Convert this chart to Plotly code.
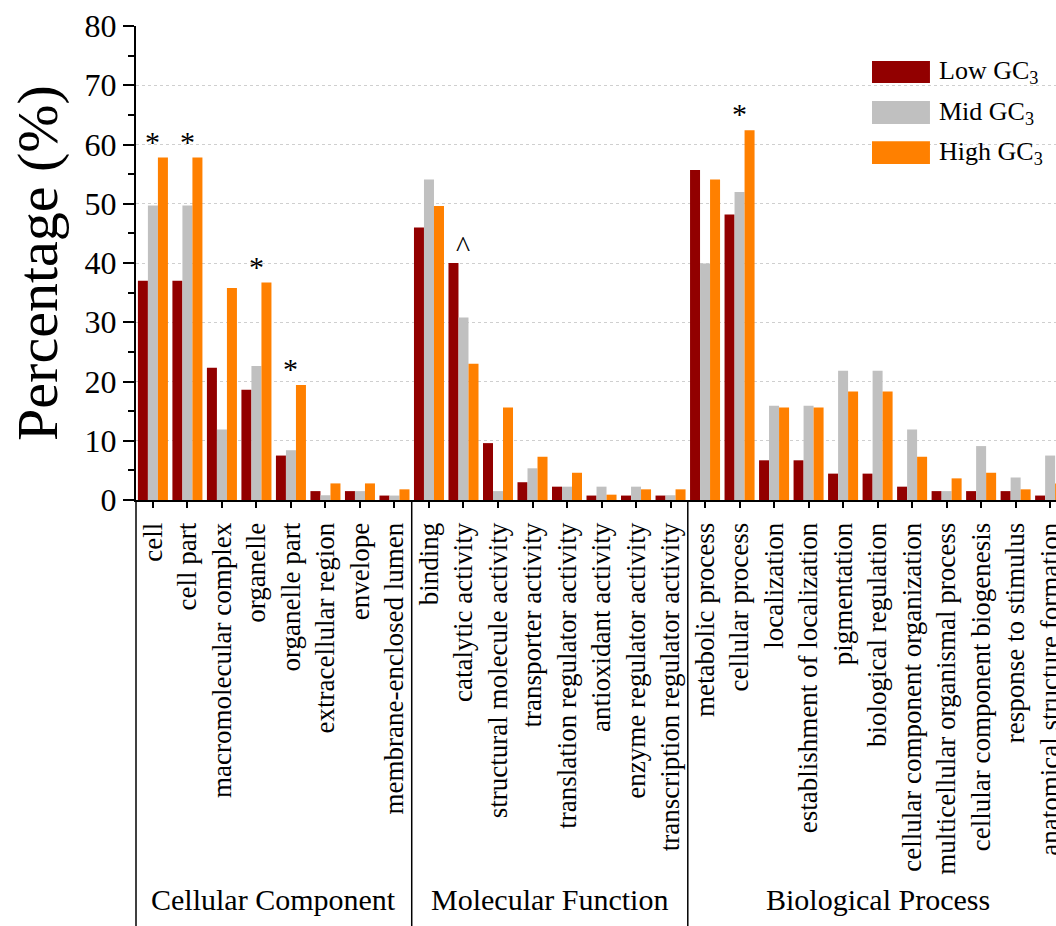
import plotly.graph_objects as go

# GO term categories, grouped by ontology
categories = [
    "cell", "cell part", "macromolecular complex", "organelle", "organelle part",
    "extracellular region", "envelope", "membrane-enclosed lumen",
    "binding", "catalytic activity", "structural molecule activity",
    "transporter activity", "translation regulator activity", "antioxidant activity",
    "enzyme regulator activity", "transcription regulator activity",
    "metabolic process", "cellular process", "localization",
    "establishment of localization", "pigmentation", "biological regulation",
    "cellular component organization", "multicellular organismal process",
    "cellular component biogenesis", "response to stimulus",
    "anatomical structure formation",
]
groups = ["Cellular Component", "Molecular Function", "Biological Process"]
group_sizes = [8, 8, 11]

low_gc3 = [37.0, 37.0, 22.3, 18.6, 7.5, 1.5, 1.5, 0.75,
           46.0, 40.0, 9.6, 3.0, 2.25, 0.75, 0.75, 0.75,
           55.7, 48.2, 6.7, 6.7, 4.45, 4.45, 2.25, 1.5, 1.5, 1.5, 0.75]
mid_gc3 = [49.7, 49.7, 11.9, 22.6, 8.4, 0.8, 1.5, 0.75,
           54.1, 30.8, 1.5, 5.35, 2.25, 2.25, 2.25, 0.8,
           39.9, 52.0, 15.9, 15.9, 21.8, 21.8, 11.9, 1.5, 9.1, 3.8, 7.5]
high_gc3 = [57.8, 57.8, 35.8, 36.7, 19.4, 2.8, 2.8, 1.8,
            49.6, 23.0, 15.6, 7.3, 4.6, 0.9, 1.8, 1.8,
            54.1, 62.4, 15.6, 15.6, 18.3, 18.3, 7.3, 3.65, 4.6, 1.8, 2.8]

series_names = ["Low GC<sub>3</sub>", "Mid GC<sub>3</sub>", "High GC<sub>3</sub>"]
series_colors = ["#920000", "#C0C0C0", "#FF8000"]

# significance marks above selected categories
marks = {"cell": "*", "cell part": "*", "organelle": "*", "organelle part": "*",
         "catalytic activity": "^", "cellular process": "*"}

FONT = "Liberation Serif"
positions = list(range(len(categories)))
x_range = [-0.49, 26.17]

fig = go.Figure()
for name, vals, color in zip(series_names, [low_gc3, mid_gc3, high_gc3], series_colors):
    fig.add_trace(go.Bar(x=positions, y=vals, name=name, marker_color=color,
                         marker_line_width=0, showlegend=False))

odd_pos = [p for p in positions if p % 2 == 1]

fig.update_layout(
    width=1056, height=926,
    margin=dict(l=136, r=0, t=26, b=426, autoexpand=False),
    paper_bgcolor="white", plot_bgcolor="white",
    barmode="group", bargap=0.13, bargroupgap=0,
    font=dict(family=FONT, color="black"),
    xaxis=dict(range=x_range, tickmode="array", tickvals=positions, ticktext=categories,
               tickangle=-90, tickfont=dict(size=27, family=FONT), ticks="outside",
               ticklen=6, tickwidth=1.5, tickcolor="black", ticklabelstandoff=4,
               ticklabeloverflow="allow", automargin=False, showline=True,
               linecolor="black", linewidth=2, showgrid=False, zeroline=False),
    xaxis2=dict(overlaying="x", anchor="y", side="bottom", range=x_range,
                tickmode="array", tickvals=odd_pos, ticks="outside", ticklen=10,
                tickwidth=1.5, tickcolor="black", showticklabels=False, automargin=False,
                showline=False, showgrid=False, zeroline=False),
    xaxis3=dict(overlaying="x", anchor="y", side="top", range=x_range,
                tickmode="array", tickvals=positions, ticks="inside", ticklen=6,
                tickwidth=1.5, tickcolor="black", showticklabels=False, automargin=False,
                showline=True, linecolor="black", linewidth=2,
                showgrid=False, zeroline=False),
    xaxis4=dict(overlaying="x", anchor="y", side="top", range=x_range,
                tickmode="array", tickvals=odd_pos, ticks="inside", ticklen=11,
                tickwidth=1.5, tickcolor="black", showticklabels=False, automargin=False,
                showline=False, showgrid=False, zeroline=False),
    yaxis=dict(range=[0, 80], dtick=10, tick0=0, ticks="outside", ticklen=11,
               tickwidth=2, tickcolor="black", tickfont=dict(size=32, family=FONT),
               minor=dict(dtick=5, ticks="outside", ticklen=6, tickwidth=1.5,
                          tickcolor="black", showgrid=False),
               showline=True, linecolor="black", linewidth=2, automargin=False,
               showgrid=True, gridcolor="#cfcfcf", griddash="dot", gridwidth=1,
               zeroline=False,
               title=dict(text="Percentage (%)", font=dict(size=58, family=FONT),
                          standoff=8)),
    yaxis2=dict(overlaying="y", anchor="x", side="right", range=[0, 80], dtick=10,
                ticks="inside", ticklen=4, tickwidth=1.5, tickcolor="black",
                showticklabels=False, showline=False, showgrid=False, zeroline=False,
                automargin=False),
)

# ontology separators running through the label area
bounds = [-0.5]
for n in group_sizes:
    bounds.append(bounds[-1] + n)
shapes = [dict(type="line", xref="paper", yref="paper", x0=0, x1=0, y0=0, y1=-0.9,
               line=dict(color="black", width=1.5))]
for b in bounds[1:-1]:
    shapes.append(dict(type="line", xref="x", yref="paper", x0=b, x1=b, y0=0, y1=-0.9,
                       line=dict(color="black", width=1.5)))

annotations = []
for g, lo, hi in zip(groups, bounds[:-1], bounds[1:]):
    annotations.append(dict(x=(lo + hi) / 2, y=-0.843, xref="x", yref="paper",
                            text=g, showarrow=False, xanchor="center", yanchor="middle",
                            font=dict(size=30, family=FONT, color="black")))

for cat, sym in marks.items():
    i = categories.index(cat)
    top = max(low_gc3[i], mid_gc3[i], high_gc3[i])
    annotations.append(dict(x=i, y=top, xref="x", yref="y", text=sym, showarrow=False,
                            xanchor="center", yanchor="bottom", yshift=-2,
                            font=dict(size=30, family=FONT, color="black")))

# legend drawn as wide swatches with labels
legend_rows = [(0.926, 0.880), (0.842, 0.793), (0.757, 0.709)]
for (y1, y0), name, color in zip(legend_rows, series_names, series_colors):
    shapes.append(dict(type="rect", xref="paper", yref="paper", x0=0.800, x1=0.863,
                       y0=y0, y1=y1, fillcolor=color, line=dict(width=0)))
    annotations.append(dict(x=0.871, y=(y0 + y1) / 2, xref="paper", yref="paper",
                            text=name, showarrow=False, xanchor="left", yanchor="middle",
                            font=dict(size=26, family=FONT, color="black")))

fig.update_layout(shapes=shapes, annotations=annotations)
fig.write_html("out.html")
